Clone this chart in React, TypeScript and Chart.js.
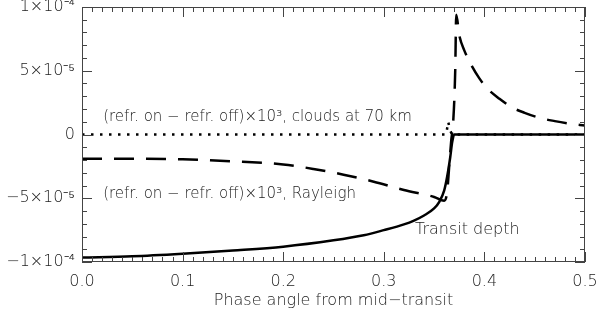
import React, { useEffect, useRef } from "react";
import { Chart, registerables } from "chart.js";

Chart.register(...registerables);

// values are in units of 1e-5
const UNIT = 1e-5;

const depthPhase = [0, 0.05, 0.1, 0.15, 0.2, 0.25, 0.28, 0.3, 0.32, 0.33, 0.34, 0.35, 0.355, 0.36, 0.363, 0.366, 0.368, 0.37, 0.4, 0.45, 0.5];
const depthValue = [-9.65, -9.55, -9.35, -9.1, -8.8, -8.3, -7.9, -7.5, -7.05, -6.75, -6.35, -5.8, -5.3, -4.4, -3.3, -1.8, -0.6, 0, 0, 0, 0];

const rayleighPhase = [0, 0.05, 0.1, 0.15, 0.2, 0.23, 0.26, 0.29, 0.32, 0.35, 0.36, 0.363, 0.365, 0.367, 0.369, 0.371, 0.372, 0.375, 0.38, 0.388, 0.395, 0.403, 0.415, 0.428, 0.44, 0.455, 0.47, 0.485, 0.5];
const rayleighValue = [-1.9, -1.9, -1.95, -2.1, -2.35, -2.7, -3.15, -3.7, -4.35, -4.9, -5.2, -4.5, -2.5, -0.5, 1.0, 5.0, 9.4, 7.8, 6.6, 5.3, 4.4, 3.6, 2.8, 2.1, 1.7, 1.3, 1.05, 0.85, 0.7];

const cloudsPhase = [0, 0.362, 0.364, 0.366, 0.368, 0.5];
const cloudsValue = [0, 0, 1.0, 0.3, 0, 0];

const xTickValues = [0, 0.1, 0.2, 0.3, 0.4, 0.5];
const xTickLabels = ["0.0", "0.1", "0.2", "0.3", "0.4", "0.5"];
const yTickValues = [-10, -5, 0, 5, 10];
const yTickLabels = ["\u22121\u00d710\u207b\u2074", "\u22125\u00d710\u207b\u2075", "0", "5\u00d710\u207b\u2075", "1\u00d710\u207b\u2074"];

const xTitle = "Phase angle from mid\u2212transit";

const annotations = [
  { text: "(refr. on \u2212 refr. off)\u00d710\u00b3, clouds at 70 km", phase: 0.021, value: 1.33, size: 15 },
  { text: "(refr. on \u2212 refr. off)\u00d710\u00b3, Rayleigh", phase: 0.021, value: -4.7, size: 15 },
  { text: "Transit depth", phase: 0.331, value: -7.5, size: 16 },
];

const FONT = "'DejaVu Sans', sans-serif";
const WEIGHT = "200";
const TEXT_COLOR = "#222";

const toPoints = (xs: number[], ys: number[]) => xs.map((x, i) => ({ x, y: ys[i] * UNIT }));

const framePlugin = {
  id: "frameTicks",
  afterDatasetsDraw(chart: any) {
    const { ctx, chartArea: a, scales } = chart;
    const xs = scales.x;
    const ys = scales.y;
    ctx.save();
    ctx.strokeStyle = "#444";
    ctx.lineWidth = 1;
    ctx.strokeRect(a.left + 0.5, a.top + 0.5, a.right - a.left - 1, a.bottom - a.top - 1);
    ctx.beginPath();
    for (let i = 0; i <= 50; i++) {
      const v = i / 100;
      const px = Math.round(xs.getPixelForValue(v)) + 0.5;
      const len = i % 10 === 0 ? 10 : 5;
      ctx.moveTo(px, a.bottom);
      ctx.lineTo(px, a.bottom - len);
      ctx.moveTo(px, a.top);
      ctx.lineTo(px, a.top + len);
    }
    for (let i = -10; i <= 10; i++) {
      const py = Math.round(ys.getPixelForValue(i * UNIT)) + 0.5;
      const len = i % 5 === 0 ? 10 : 5;
      ctx.moveTo(a.left, py);
      ctx.lineTo(a.left + len, py);
      ctx.moveTo(a.right, py);
      ctx.lineTo(a.right - len, py);
    }
    ctx.stroke();

    ctx.fillStyle = TEXT_COLOR;
    ctx.textBaseline = "middle";
    ctx.textAlign = "left";
    for (const an of annotations) {
      ctx.font = `${WEIGHT} ${an.size}px ${FONT}`;
      ctx.fillText(an.text, xs.getPixelForValue(an.phase), ys.getPixelForValue(an.value * UNIT));
    }
    ctx.restore();
  },
};

export default function App() {
  const ref = useRef<HTMLCanvasElement | null>(null);
  useEffect(() => {
    if (!ref.current) return;
    const chart = new Chart(ref.current, {
      type: "line",
      data: {
        datasets: [
          {
            data: toPoints(cloudsPhase, cloudsValue),
            borderColor: "#000",
            borderWidth: 2.5,
            borderDash: [2.5, 6.5],
            pointRadius: 0,
            tension: 0,
          },
          {
            data: toPoints(rayleighPhase, rayleighValue),
            borderColor: "#000",
            borderWidth: 2.5,
            borderDash: [20, 12],
            pointRadius: 0,
            cubicInterpolationMode: "monotone",
          },
          {
            data: toPoints(depthPhase, depthValue),
            borderColor: "#000",
            borderWidth: 2.5,
            pointRadius: 0,
            cubicInterpolationMode: "monotone",
          },
        ],
      },
      options: {
        animation: false,
        responsive: false,
        layout: { padding: { top: 7, right: 15, left: 0, bottom: 0 } },
        plugins: { legend: { display: false }, tooltip: { enabled: false } },
        scales: {
          x: {
            type: "linear",
            min: 0,
            max: 0.5,
            grid: { display: false, drawTicks: false },
            border: { display: false },
            afterBuildTicks: (s: any) => {
              s.ticks = xTickValues.map((v) => ({ value: v }));
            },
            afterFit: (s: any) => {
              s.height = 55;
              s.paddingLeft = 0;
              s.paddingRight = 0;
            },
            ticks: {
              padding: 10,
              maxRotation: 0,
              autoSkip: false,
              color: TEXT_COLOR,
              font: { family: FONT, size: 16, weight: WEIGHT },
              callback: (v: any) => {
                const i = xTickValues.findIndex((t) => Math.abs(t - Number(v)) < 1e-9);
                return i >= 0 ? xTickLabels[i] : "";
              },
            },
            title: {
              display: true,
              text: xTitle,
              color: TEXT_COLOR,
              font: { family: FONT, size: 16, weight: WEIGHT },
              padding: { top: 0, bottom: 7 },
            },
          },
          y: {
            type: "linear",
            min: -10 * UNIT,
            max: 10 * UNIT,
            grid: { display: false, drawTicks: false },
            border: { display: false },
            afterBuildTicks: (s: any) => {
              s.ticks = yTickValues.map((v) => ({ value: v * UNIT }));
            },
            afterFit: (s: any) => {
              s.width = 82;
              s.paddingTop = 0;
              s.paddingBottom = 0;
            },
            ticks: {
              padding: 7,
              autoSkip: false,
              color: TEXT_COLOR,
              font: { family: FONT, size: 16, weight: WEIGHT },
              callback: (v: any) => {
                const i = yTickValues.findIndex((t) => Math.abs(t * UNIT - Number(v)) < 1e-12);
                return i >= 0 ? yTickLabels[i] : "";
              },
            },
          },
        },
      },
      plugins: [framePlugin],
    } as any);
    return () => chart.destroy();
  }, []);
  return (
    <div style={{ position: "absolute", left: 0, top: 0, width: 600, height: 317, background: "#fff" }}>
      <canvas ref={ref} width={600} height={317} />
    </div>
  );
}
